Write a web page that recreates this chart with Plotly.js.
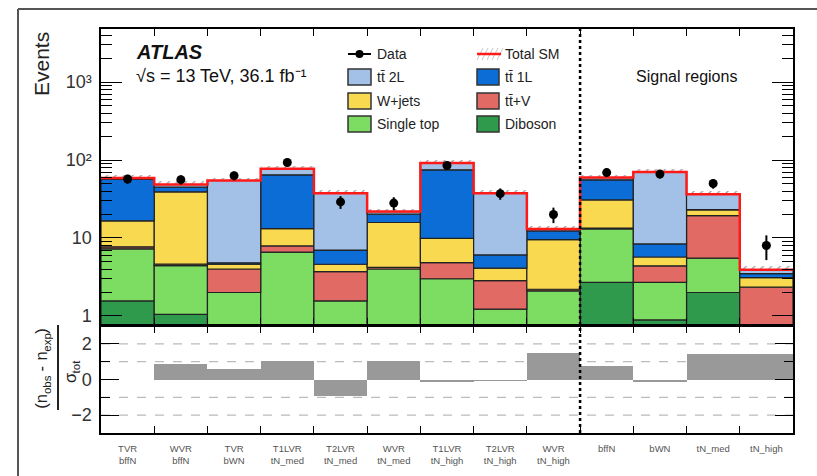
<!DOCTYPE html>
<html>
<head>
<meta charset="utf-8">
<script src="https://cdn.plot.ly/plotly-3.0.1.min.js"></script>
<style>html,body{margin:0;padding:0;background:#fff;}#chart{width:817px;height:476px;}</style>
</head>
<body>
<div id="chart"></div>
<script>
// ---- data ----
const binLabels = ["TVR<br>bffN","WVR<br>bffN","TVR<br>bWN","T1LVR<br>tN_med","T2LVR<br>tN_med","WVR<br>tN_med",
  "T1LVR<br>tN_high","T2LVR<br>tN_high","WVR<br>tN_high","bffN","bWN","tN_med","tN_high"];
const diboson   = [1.56, 1.05, 0.3, 0.3, 0.3, 0.4, 0.3, 0.2, 0.3, 2.7, 0.89, 2.0, 0.1];
const singleTop = [5.69, 3.37, 1.7, 6.3, 1.26, 3.6, 2.7, 1.02, 1.8, 10.4, 1.81, 3.5, 0.3];
const ttV       = [0.45, 0.2, 2.0, 1.3, 2.14, 0.2, 1.83, 1.62, 0.1, 0.3, 1.7, 13.9, 1.94];
const wjets     = [8.9, 34.4, 0.6, 5.3, 0.9, 11.6, 5.07, 1.26, 7.3, 17.4, 1.3, 3.5, 0.76];
const tt1L      = [40.3, 5.8, 0.2, 51.4, 2.4, 4.4, 64.9, 1.97, 2.8, 24.9, 2.7, 0.3, 0.4];
const tt2L      = [1.7, 3.7, 49.8, 12.5, 30.6, 1.6, 16.4, 31.5, 0.7, 3.9, 61.6, 13.3, 0.4];
const dataObs   = [57, 56, 63, 93, 29, 28, 85, 37, 20, 69, 66, 50, 8];
const dataErr   = [7.5, 7.5, 7.9, 9.6, 5.4, 5.3, 9.2, 6.1, 4.5, 8.3, 8.1, 7.1, 2.8];
const bkgUnc    = [5, 4.5, 5, 7, 3.5, 2, 8, 3.5, 1.3, 5.5, 6.5, 3.5, 0.5];
const significance = [-0.05, 0.87, 0.6, 1.05, -0.95, 1.02, -0.15, -0.1, 1.47, 0.74, -0.15, 1.43, 1.43];
const yTickVals = [1, 10, 100, 1000];
const yTickText = ["1", "10", "10\u00B2", "10\u00B3"];
const ratioTickVals = [-2, 0, 2];
const ratioTickText = ["\u22122", "0", "2"];
const ratioGridLevels = [-2, -1, 1, 2];

// ---- geometry helpers (pixels -> paper) ----
const W = 817, H = 476, ML = 101, MR = 24, MT = 29, MB = 43;
const PW = W - ML - MR, PH = H - MT - MB;
const px = x => (x - ML) / PW;
const py = y => (H - MB - y) / PH;
const FONT = "Liberation Sans, Arial, Helvetica, sans-serif";
const mctx = document.createElement("canvas").getContext("2d");
const textWidth = (t, size) => { mctx.font = size + 'px "Liberation Sans", Arial, sans-serif'; return mctx.measureText(t).width; };

const n = binLabels.length;
const centers = binLabels.map((_, i) => i);
const edgesInner = centers.slice(1).map(c => c - 0.5);
const edgesAll = [-0.5].concat(centers.map(c => c + 0.5));

const layers = [
  {name: "Diboson", vals: diboson, color: "#2f9a4c"},
  {name: "Single top", vals: singleTop, color: "#7ddc62"},
  {name: "tt\u0304+V", vals: ttV, color: "#e26a64"},
  {name: "W+jets", vals: wjets, color: "#f8d950"},
  {name: "tt\u0304 1L", vals: tt1L, color: "#0c6dd6"},
  {name: "tt\u0304 2L", vals: tt2L, color: "#a3c1e6"}
];

let cum = new Array(n).fill(0);
const stackTraces = layers.map(L => {
  const base = cum.slice();
  cum = cum.map((c, i) => c + L.vals[i]);
  return {type: "bar", x: centers, y: L.vals, base: base, width: 1, name: L.name,
    marker: {color: L.color, line: {color: "#222", width: 1.2}}, xaxis: "x", yaxis: "y"};
});
const total = cum;

const hatchTrace = {type: "bar", x: centers, y: bkgUnc.map(u => 2 * u), base: total.map((t, i) => t - bkgUnc[i]),
  width: 1, xaxis: "x", yaxis: "y",
  marker: {color: "rgba(0,0,0,0)", line: {width: 0},
    pattern: {shape: "/", fgcolor: "#9a9a9a", bgcolor: "rgba(0,0,0,0)", size: 6, solidity: 0.2}}};

const totalLine = {type: "scatter", mode: "lines", x: edgesAll, y: total.concat([total[n - 1]]),
  line: {shape: "hv", color: "#ff1a1a", width: 2.5}, xaxis: "x", yaxis: "y"};

const dataTrace = {type: "scatter", mode: "markers", x: centers, y: dataObs,
  error_y: {type: "data", array: dataErr, color: "#000", thickness: 2, width: 0},
  marker: {color: "#000", size: 9}, xaxis: "x", yaxis: "y"};

const sigTrace = {type: "bar", x: centers, y: significance, width: 1, xaxis: "x2", yaxis: "y2",
  marker: {color: "#999999", line: {width: 0}}};

const axLine = {showline: true, linecolor: "#000", linewidth: 1.6, mirror: "ticks", tickcolor: "#000"};

const shapes = [];
ratioGridLevels.forEach(v => shapes.push({type: "line", xref: "x2", yref: "y2", x0: -0.5, x1: 12.5, y0: v, y1: v,
  line: {color: "#bbb", width: 1.2, dash: "dash"}, layer: "below"}));
shapes.push({type: "line", xref: "x", yref: "paper", x0: 8.5, x1: 8.5, y0: 0, y1: 1,
  line: {color: "#000", width: 2.5, dash: "dot"}});
shapes.push({type: "line", xref: "paper", yref: "paper", x0: px(58), x1: px(58), y0: py(325), y1: py(410),
  line: {color: "#222", width: 2}});
shapes.push({type: "line", xref: "paper", yref: "paper", x0: px(18), x1: px(817), y0: py(9), y1: py(9), line: {color: "#555", width: 2}});
shapes.push({type: "line", xref: "paper", yref: "paper", x0: px(18), x1: px(18), y0: py(9), y1: py(476), line: {color: "#555", width: 2}});

// ---- manual two-column legend ----
const annotations = [];
const legRows = [54, 77, 101, 124];
const legCols = [{box0: 348, box1: 371, text: 375}, {box0: 477, box1: 499, text: 503}];
const legendItems = [
  {col: 0, row: 0, label: "Data", kind: "data"},
  {col: 1, row: 0, label: "Total SM", kind: "total"},
  {col: 0, row: 1, label: "tt\u0304 2L", kind: "box", color: layers[5].color},
  {col: 1, row: 1, label: "tt\u0304 1L", kind: "box", color: layers[4].color},
  {col: 0, row: 2, label: "W+jets", kind: "box", color: layers[3].color},
  {col: 1, row: 2, label: "tt\u0304+V", kind: "box", color: layers[2].color},
  {col: 0, row: 3, label: "Single top", kind: "box", color: layers[1].color},
  {col: 1, row: 3, label: "Diboson", kind: "box", color: layers[0].color}
];
legendItems.forEach(it => {
  const c = legCols[it.col], yc = legRows[it.row];
  if (it.kind === "box") {
    shapes.push({type: "rect", xref: "paper", yref: "paper", x0: px(c.box0), x1: px(c.box1), y0: py(yc + 8), y1: py(yc - 8),
      fillcolor: it.color, line: {color: "#333", width: 1.5}});
  } else if (it.kind === "data") {
    shapes.push({type: "line", xref: "paper", yref: "paper", x0: px(c.box0), x1: px(c.box1), y0: py(yc), y1: py(yc), line: {color: "#000", width: 2}});
    shapes.push({type: "circle", xref: "paper", yref: "paper", x0: px(c.box0 + 7.5), x1: px(c.box0 + 15.5), y0: py(yc + 4), y1: py(yc - 4),
      fillcolor: "#000", line: {color: "#000", width: 0}});
  } else {
    for (let k = 0; k < 5; k++) {
      const x0 = c.box0 + k * 5;
      shapes.push({type: "line", xref: "paper", yref: "paper", x0: px(x0), x1: px(x0 + 6), y0: py(yc + 6), y1: py(yc - 6),
        line: {color: "#c8c8c8", width: 1}});
    }
    shapes.push({type: "line", xref: "paper", yref: "paper", x0: px(c.box0), x1: px(c.box1 + 2), y0: py(yc), y1: py(yc), line: {color: "#ff1a1a", width: 2.5}});
  }
  annotations.push({xref: "paper", yref: "paper", x: px(c.text), y: py(yc), xanchor: "left", yanchor: "middle",
    text: it.label, showarrow: false, font: {family: FONT, size: 14, color: "#222"}});
});

annotations.push(
  {xref: "paper", yref: "paper", x: px(134), y: py(52), xanchor: "left", yanchor: "middle", showarrow: false,
   text: "<b><i>ATLAS</i></b>", font: {family: FONT, size: 20, color: "#111"}},
  {xref: "paper", yref: "paper", x: px(134), y: py(76), xanchor: "left", yanchor: "middle", showarrow: false,
   text: "\u221As = 13 TeV, 36.1 fb\u207B\u00B9", font: {family: FONT, size: 18, color: "#111"}},
  {xref: "paper", yref: "paper", x: px(686), y: py(76), xanchor: "center", yanchor: "middle", showarrow: false,
   text: "Signal regions", font: {family: FONT, size: 16, color: "#111"}},
  {xref: "paper", yref: "paper", x: px(42), y: py(64), xanchor: "center", yanchor: "middle", showarrow: false, textangle: -90,
   text: "Events", font: {family: FONT, size: 21, color: "#222"}}
);

// ratio-axis title (n_obs - n_exp) / sigma_tot, composed of rotated pieces read bottom-to-top
const MAIN = 16.5, SUB = 11.5;
function rotatedRun(pieces, yStart, xMain, xSub) {
  let y = yStart;
  pieces.forEach(p => {
    const size = p.sub ? SUB : MAIN;
    const w = textWidth(p.t, size);
    if (p.t.trim() !== "") {
      annotations.push({xref: "paper", yref: "paper", x: px(p.sub ? xSub : xMain), y: py(y - w / 2),
        xanchor: "center", yanchor: "middle", showarrow: false, textangle: -90,
        text: p.t, font: {family: FONT, size: size, color: "#222"}});
    }
    y -= w;
  });
}
rotatedRun([{t: "(n"}, {t: "obs", sub: true}, {t: " "}, {t: "-"}, {t: " "}, {t: "n"}, {t: "exp", sub: true}, {t: ")"}], 409, 41, 47);
rotatedRun([{t: "\u03C3"}, {t: "tot", sub: true}], 383, 70, 76);

const layout = {
  width: W, height: H, margin: {l: ML, r: MR, t: MT, b: MB},
  paper_bgcolor: "#fff", plot_bgcolor: "#fff", showlegend: false, hovermode: false,
  barmode: "overlay", bargap: 0,
  font: {family: FONT, color: "#333"},
  xaxis: Object.assign({}, axLine, {domain: [0, 1], anchor: "y", range: [-0.5, 12.5], showticklabels: false,
    tickvals: [], ticks: "", showgrid: false, zeroline: false,
    minor: {tickvals: edgesInner, ticks: "inside", ticklen: 7, tickcolor: "#000"}}),
  yaxis: Object.assign({}, axLine, {domain: [py(325), 1], anchor: "x", type: "log", range: [-0.116, 3.68],
    tickvals: yTickVals, ticktext: yTickText, ticks: "inside", ticklen: 21, showgrid: false, zeroline: false,
    tickfont: {family: FONT, size: 18, color: "#333"}, ticklabelstandoff: 4,
    minor: {ticks: "inside", ticklen: 11, tickcolor: "#000",
      tickvals: [2,3,4,5,6,7,8,9,20,30,40,50,60,70,80,90,200,300,400,500,600,700,800,900,2000,3000,4000]}}),
  xaxis2: Object.assign({}, axLine, {domain: [0, 1], anchor: "y2", matches: "x", range: [-0.5, 12.5],
    tickvals: centers, ticktext: binLabels, ticks: "", showgrid: false, zeroline: false, ticklabelstandoff: 6,
    tickfont: {family: FONT, size: 9.5, color: "#555"},
    minor: {tickvals: edgesInner, ticks: "inside", ticklen: 7, tickcolor: "#000"}}),
  yaxis2: Object.assign({}, axLine, {domain: [0, py(326)], anchor: "x2", range: [-3, 3],
    tickvals: ratioTickVals, ticktext: ratioTickText, ticks: "inside", ticklen: 18, showgrid: false, zeroline: false,
    tickfont: {family: FONT, size: 18, color: "#333"}, ticklabelstandoff: 4,
    minor: {tickvals: [-1, 1], ticks: "inside", ticklen: 9, tickcolor: "#000"}}),
  shapes: shapes,
  annotations: annotations
};

Plotly.newPlot("chart", [hatchTrace].concat(stackTraces, [totalLine, dataTrace, sigTrace]), layout,
  {displayModeBar: false, staticPlot: true});
</script>
</body>
</html>
